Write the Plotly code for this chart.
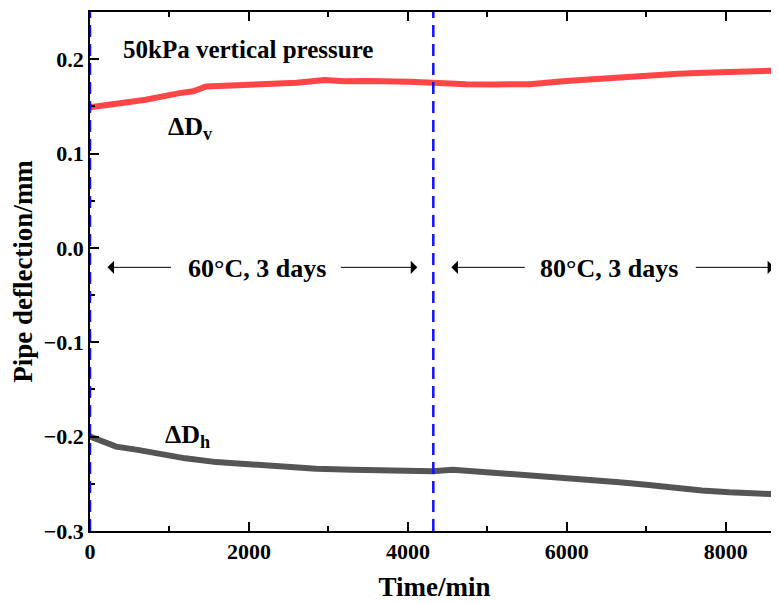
import plotly.graph_objects as go

# ---- data ----
dv_time = [0, 200, 455, 700, 1126, 1300, 1462, 1800, 2217, 2600, 2950, 3200, 3475, 3642,
           4019, 4310, 4500, 4732, 5100, 5528, 5990, 6500, 6997, 7400, 7830, 8200, 8630]
dv_vals = [0.149, 0.151, 0.153, 0.157, 0.164, 0.166, 0.171, 0.172, 0.1735, 0.175, 0.178,
           0.1765, 0.177, 0.177, 0.176, 0.175, 0.175, 0.1735, 0.1732, 0.1735, 0.177, 0.180,
           0.1833, 0.1845, 0.1858, 0.187, 0.188]

dh_time = [0, 150, 329, 600, 958, 1200, 1587, 1900, 2217, 2500, 2846, 3300, 3642, 3893,
           4310, 4564, 5025, 5400, 5821, 6200, 6660, 7000, 7415, 7700, 8044, 8400, 8630]
dh_vals = [-0.200, -0.205, -0.2106, -0.214, -0.2202, -0.223, -0.227, -0.229, -0.2305, -0.232,
           -0.234, -0.235, -0.2358, -0.2366, -0.2366, -0.235, -0.2376, -0.240, -0.243, -0.245,
           -0.2483, -0.251, -0.2554, -0.257, -0.259, -0.260, -0.261]

stage_bounds = [0, 4320, 8640]
stage_labels = ["60°C, 3 days", "80°C, 3 days"]

FONT = "Liberation Serif"
fig = go.Figure()

fig.add_trace(go.Scatter(x=dv_time, y=dv_vals, mode="lines",
                         line=dict(color="#ff4545", width=6), showlegend=False))
fig.add_trace(go.Scatter(x=dh_time, y=dh_vals, mode="lines",
                         line=dict(color="#555555", width=6), showlegend=False))

for xb in stage_bounds:
    fig.add_shape(type="line", x0=xb, x1=xb, y0=-0.3, y1=0.25, xref="x", yref="y",
                  line=dict(color="#1010ff", width=2.5, dash="12px,7px"))

arrow_y = -0.0206
# arrows: (tip, tail)
arrows = [(220, 1038), (4119, 3138), (4547, 5490), (8610, 7604)]
for tip, tail in arrows:
    fig.add_annotation(x=tip, y=arrow_y, ax=tail, ay=arrow_y, xref="x", yref="y",
                       axref="x", ayref="y", text="", showarrow=True,
                       arrowhead=1, arrowsize=2.2, arrowwidth=1, arrowcolor="black")

bold = dict(family=FONT, color="black", weight="bold")
fig.add_annotation(x=2100, y=-0.022, text="<b>%s</b>" % stage_labels[0], showarrow=False,
                   font=dict(bold, size=26))
fig.add_annotation(x=6535, y=-0.022, text="<b>%s</b>" % stage_labels[1], showarrow=False,
                   font=dict(bold, size=26))
fig.add_annotation(x=1987, y=0.21, text="<b>50kPa vertical pressure</b>", showarrow=False,
                   font=dict(bold, size=25))
fig.add_annotation(x=1264, y=0.127, text="<b>ΔD<sub>v</sub></b>", showarrow=False,
                   font=dict(bold, size=26))
fig.add_annotation(x=1226, y=-0.199, text="<b>ΔD<sub>h</sub></b>", showarrow=False,
                   font=dict(bold, size=26))

fig.update_xaxes(range=[0, 8670], dtick=2000, tick0=0, ticks="inside", ticklen=9,
                 tickwidth=1.5, tickcolor="black", showline=True, linecolor="black",
                 linewidth=1.5, mirror="allticks", showgrid=False, zeroline=False,
                 minor=dict(dtick=1000, ticks="inside", ticklen=5, tickwidth=1.5,
                            tickcolor="black"),
                 tickfont=dict(bold, size=22),
                 title=dict(text="<b>Time/min</b>", font=dict(bold, size=27), standoff=14))
fig.update_yaxes(range=[-0.3, 0.25], dtick=0.1, tick0=0, tickformat=".1f", ticks="inside",
                 ticklen=9, tickwidth=1.5, tickcolor="black", showline=True,
                 linecolor="black", linewidth=1.5, showgrid=False, zeroline=False,
                 minor=dict(dtick=0.05, ticks="inside", ticklen=5, tickwidth=1.5,
                            tickcolor="black"),
                 tickfont=dict(bold, size=22),
                 title=dict(text="<b>Pipe deflection/mm</b>", font=dict(bold, size=27),
                            standoff=8))
fig.update_layout(width=771, height=595, margin=dict(l=82, r=0, t=4, b=72),
                  plot_bgcolor="white", paper_bgcolor="white", showlegend=False)
fig.write_html("out.html")
